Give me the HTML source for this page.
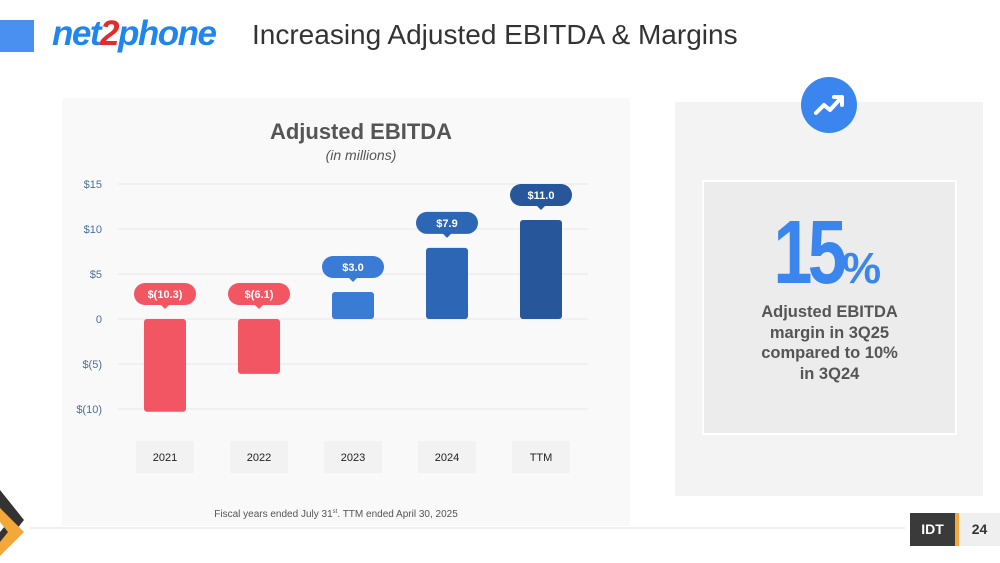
<!DOCTYPE html>
<html><head><meta charset="utf-8"><style>
body{margin:0;width:1000px;height:563px;background:#fff;position:relative;overflow:hidden;font-family:"Liberation Sans",sans-serif}
.a{position:absolute}
</style></head><body>
<div class="a" style="left:0;top:20px;width:34px;height:32px;background:#4a90f0"></div>
<div class="a" style="left:52px;top:14px;font:italic bold 35px 'Liberation Sans',sans-serif;color:#1f86f0;letter-spacing:-1.5px">net<span style="color:#e52a2a">2</span>phone</div>
<div class="a" style="left:252px;top:19px;font-size:28px;color:#333">Increasing Adjusted EBITDA &amp; Margins</div>
<div class="a" style="left:62px;top:98px;width:568px;height:428px;background:#f9f9f9"></div>
<svg class="a" style="left:0;top:0" width="1000" height="563">
<text x="361" y="139" text-anchor="middle" font-family="Liberation Sans" font-weight="bold" font-size="22" fill="#555">Adjusted EBITDA</text>
<text x="361" y="160" text-anchor="middle" font-family="Liberation Sans" font-style="italic" font-size="14" fill="#555">(in millions)</text>
<g id="grid"></g><g id="bars"></g>
<text x="336" y="517" text-anchor="middle" font-family="Liberation Sans" font-size="10" fill="#555">Fiscal years ended July 31<tspan font-size="6" dy="-4">st</tspan><tspan dy="4">.  TTM ended April 30, 2025</tspan></text>
</svg>
<div class="a" style="left:675px;top:102px;width:308px;height:394px;background:#f3f3f3"></div>
<div class="a" style="left:801px;top:77px;width:56px;height:56px;border-radius:50%;background:#3b86ee">
<svg width="56" height="56"><polyline points="15,36 23,28 29,33 40,21" fill="none" stroke="#fff" stroke-width="4" stroke-linecap="round" stroke-linejoin="round"/><polyline points="33,20 41,20 41,28" fill="none" stroke="#fff" stroke-width="4" stroke-linecap="round" stroke-linejoin="round"/></svg></div>
<div class="a" style="left:702px;top:180px;width:251px;height:251px;background:#ececec;border:2px solid #fff"></div>
<div class="a" style="left:690px;top:202px;width:255px;text-align:center;color:#3b86ee;font-weight:bold"><span style="font-size:90px;letter-spacing:-6px;display:inline-block;transform:scaleX(.78);transform-origin:right">15</span><span style="font-size:44px">%</span></div>
<div class="a" style="left:702px;top:302px;width:255px;text-align:center;color:#555;font-weight:bold;font-size:16.5px;line-height:20.5px">Adjusted EBITDA<br>margin in 3Q25<br>compared to 10%<br>in 3Q24</div>
<div class="a" style="left:30px;top:527px;width:875px;height:2px;background:#efefef"></div>
<svg class="a" style="left:0;top:490px" width="30" height="73"><polygon points="0,0 24,30 0,60 0,42 10,30 0,18" fill="#333"/><polygon points="0,18 24,42 0,66 0,52 8,42 0,32" fill="#f5a83a"/></svg>
<div class="a" style="left:910px;top:513px;width:45px;height:33px;background:#3a3a3a;color:#fff;font-weight:bold;font-size:14px;line-height:33px;text-align:center;border-right:4px solid #f5a83a">IDT</div>
<div class="a" style="left:959px;top:513px;width:41px;height:33px;background:#efefef;color:#333;font-weight:bold;font-size:14px;line-height:33px;text-align:center">24</div>
<script>
const categories=["2021","2022","2023","2024","TTM"];
const values=[-10.3,-6.1,3.0,7.9,11.0];
const valueLabels=["$(10.3)","$(6.1)","$3.0","$7.9","$11.0"];
const ticks=[15,10,5,0,-5,-10];
const tickLabels=["$15","$10","$5","0","$(5)","$(10)"];
const colors=["#f25662","#f25662","#3a7bd5","#2e66b6","#27579a"];
const NS="http://www.w3.org/2000/svg";
const y=v=>319-v*9;
const x=i=>165+i*94;
function mk(t,a,p){const e=document.createElementNS(NS,t);for(const k in a)e.setAttribute(k,a[k]);p.appendChild(e);return e;}
const g=document.getElementById('grid'),b=document.getElementById('bars');
ticks.forEach((t,i)=>{
 const l=mk('line',{x1:118,x2:588,y1:y(t),y2:y(t),stroke:'#eeeeee','stroke-width':1.5},g);
 
 
 const tx=mk('text',{x:102,y:y(t)+4,'text-anchor':'end','font-family':'Liberation Sans','font-size':11,fill:'#4a6f99'},g);
 tx.textContent=tickLabels[i];
 
 
});
categories.forEach((c,i)=>{
 const v=values[i],cx=x(i),top=Math.min(y(v),y(0)),h=Math.abs(y(v)-y(0));
 const r=mk('rect',{x:cx-21,y:top,width:42,height:h,rx:3,fill:colors[i]},b);
 
 
 const py=(v>0?y(v):y(0))-25;
 const pg=mk('g',{},b);
 
 
 mk('rect',{x:cx-31,y:py-11,width:62,height:22,rx:11,fill:colors[i]},pg);
 mk('polygon',{points:`${cx-5},${py+10} ${cx+5},${py+10} ${cx},${py+15}`,fill:colors[i]},pg);
 const t=mk('text',{x:cx,y:py+4,'text-anchor':'middle','font-family':'Liberation Sans','font-weight':'bold','font-size':11,fill:'#fff'},pg);
 t.textContent=valueLabels[i];
 const cb=mk('rect',{x:cx-29,y:441,width:58,height:32,fill:'#f2f2f2'},b);
 
 
 const ct=mk('text',{x:cx,y:461,'text-anchor':'middle','font-family':'Liberation Sans','font-size':11,fill:'#222'},b);
 ct.textContent=c;
 
 
});
</script>
</body></html>
